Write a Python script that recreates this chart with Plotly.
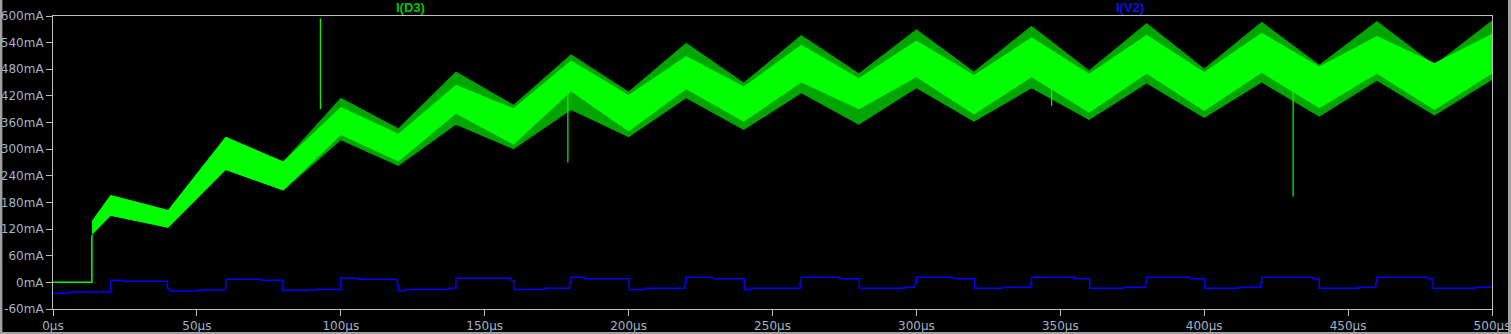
import plotly.graph_objects as go

# ---------------- data ----------------
# I(D3): envelope of the switching current, sampled at breakpoints (µs, mA)
d3_t = [13.6, 20, 40, 60, 80, 100, 120, 140, 160, 180, 200, 220, 240, 260, 280,
        300, 320, 340, 360, 380, 400, 420, 440, 460, 480, 500]
d3_outer_hi = [139, 197, 163, 328, 272, 416, 347, 475, 400, 514, 430, 540, 450, 557, 471,
               570, 475, 578, 478, 584, 482, 587, 490, 589, 490, 590]
d3_outer_lo = [107, 150, 123, 253, 207, 320, 262, 355, 300, 388, 327, 415, 343, 426, 355,
               437, 362, 437, 366, 448, 370, 450, 373, 454, 376, 456]
d3_inner_hi = [139, 197, 163, 328, 272, 395, 335, 445, 392, 500, 422, 510, 441, 535, 460,
               545, 467, 552, 470, 558, 474, 562, 486, 555, 494, 560]
d3_inner_lo = [107, 150, 123, 253, 207, 332, 272, 380, 310, 430, 340, 435, 362, 450, 390,
               462, 378, 462, 382, 470, 386, 472, 392, 470, 388, 470]

# I(D3) before the switching starts
d3_start_t = [0, 13.5, 13.5, 13.6]
d3_start_i = [0, 0, 103, 107]

# isolated spikes of I(D3): time, top, bottom
spike_t = [92.9, 178.9, 347.0, 430.9]
spike_top = [595, 440, 440, 480]
spike_bot = [390, 270, 398, 193]

# I(V2): step waveform (hold value until next time)
v2_t = [0, 5.2, 20, 24, 39.7, 40.5, 50.6, 60, 72.4, 79.8, 91.1, 100, 106, 119.6, 120, 122.4,
        137.5, 140, 159.2, 160.1, 170.9, 179.5, 180, 184.7, 200.2, 205.9, 219.6, 220, 229.4,
        240.2, 242.4, 259.6, 260, 273.2, 280.2, 296, 299.6, 300, 313, 320.2, 330, 339.6, 340,
        355, 360.2, 372, 379.6, 380, 395, 400.2, 412, 419.6, 420, 437.8, 440, 453.7, 459.6,
        460, 477.6, 479.5, 494, 500]
v2_i = [-24.7, -21.8, 4.7, 2.5, -13, -19.5, -17.3, 6.8, 4.6, -18.0, -15.8, 9.0, 6.8, -6, -18.8, -15.8,
        -13.5, 9.0, 3.9, -15.8, -13.5, -0.7, 11.3, 8.3, -15.8, -13.5, -0.7, 11.3, 8.3,
        -15.8, -13.5, -0.7, 11.3, 8.3, -13.5, -11.2, -0.7, 11.3, 8.3, -13.5, -11.2, -0.7, 11.3,
        8.3, -13.5, -11.2, -0.7, 11.3, 8.3, -13.5, -11.2, -0.7, 11.3, 8.3, -13.5, -11.2, -0.7,
        11.3, 8.3, -13.5, -11.2, -11.2]

x_ticks = [0, 50, 100, 150, 200, 250, 300, 350, 400, 450, 500]
x_labels = [f"{v}µs" for v in x_ticks]
y_ticks = [-60, 0, 60, 120, 180, 240, 300, 360, 420, 480, 540, 600]
y_labels = [f"{v}mA" for v in y_ticks]

# ---------------- figure ----------------
GREEN = "#00ff00"
GREEN_DIM = "rgb(0,165,0)"
BLUE = "#0000ff"
FRAME = "#c0c0c0"
LABEL = "#a0b4c8"

fig = go.Figure()

# outer (striped) envelope
fig.add_trace(go.Scatter(x=d3_t, y=d3_outer_lo, mode="lines", line=dict(width=0),
                         hoverinfo="skip", showlegend=False))
fig.add_trace(go.Scatter(x=d3_t, y=d3_outer_hi, mode="lines", line=dict(width=0),
                         fill="tonexty", fillcolor=GREEN_DIM, showlegend=False))
# inner solid band
fig.add_trace(go.Scatter(x=d3_t, y=d3_inner_lo, mode="lines", line=dict(width=0),
                         hoverinfo="skip", showlegend=False))
fig.add_trace(go.Scatter(x=d3_t, y=d3_inner_hi, mode="lines", line=dict(width=0),
                         fill="tonexty", fillcolor=GREEN, showlegend=False))

# start segment
fig.add_trace(go.Scatter(x=d3_start_t, y=d3_start_i, mode="lines",
                         line=dict(color=GREEN, width=1.5), showlegend=False))

# spikes
sx, sy = [], []
for t, a, b in zip(spike_t, spike_top, spike_bot):
    sx += [t, t, None]
    sy += [a, b, None]
fig.add_trace(go.Scatter(x=sx, y=sy, mode="lines", line=dict(color=GREEN, width=1.2),
                         showlegend=False))

# I(V2)
fig.add_trace(go.Scatter(x=v2_t, y=v2_i, mode="lines", line=dict(color=BLUE, width=1.5, shape="hv"),
                         showlegend=False))

fig.update_layout(
    width=1511, height=334,
    margin=dict(l=53, r=19, t=16, b=25, autoexpand=False),
    paper_bgcolor="black", plot_bgcolor="black",
    font=dict(family="DejaVu Sans", size=12, color=LABEL),
    showlegend=False,
    xaxis=dict(range=[0, 500], tickvals=x_ticks, ticktext=x_labels, showgrid=False, zeroline=False,
               showline=True, linecolor=FRAME, linewidth=1, mirror=True,
               ticks="outside", ticklen=6, tickcolor=FRAME, tickwidth=1,
               tickfont=dict(family="DejaVu Sans", size=12, color=LABEL)),
    yaxis=dict(range=[-60, 600], tickvals=y_ticks, ticktext=y_labels, showgrid=False, zeroline=False,
               showline=True, linecolor=FRAME, linewidth=1, mirror=True,
               ticks="outside", ticklen=6, tickcolor=FRAME, tickwidth=1,
               tickfont=dict(family="DejaVu Sans", size=12, color=LABEL)),
    annotations=[
        dict(text="<b>I(D3)</b>", x=0.2486, y=1.0307, xref="paper", yref="paper", showarrow=False,
             xanchor="center", yanchor="middle", font=dict(family="Liberation Sans", size=13, color="#00c800")),
        dict(text="<b>I(V2)</b>", x=0.7482, y=1.0307, xref="paper", yref="paper", showarrow=False,
             xanchor="center", yanchor="middle", font=dict(family="Liberation Sans", size=13, color="#1010e6")),
    ],
    shapes=[
        dict(type="rect", xref="paper", yref="paper", x0=-0.0370, x1=-0.0352, y0=-0.09, y1=1.06,
             fillcolor="#a0a0a0", line=dict(width=0)),
        dict(type="rect", xref="paper", yref="paper", x0=1.0111, x1=1.0140, y0=-0.09, y1=1.06,
             fillcolor="#a0a0a0", line=dict(width=0)),
        dict(type="rect", xref="paper", yref="paper", x0=-0.04, x1=1.02, y0=-0.0860, y1=-0.0785,
             fillcolor="#a0a0a0", line=dict(width=0)),
    ],
)

fig.write_html("out.html")
